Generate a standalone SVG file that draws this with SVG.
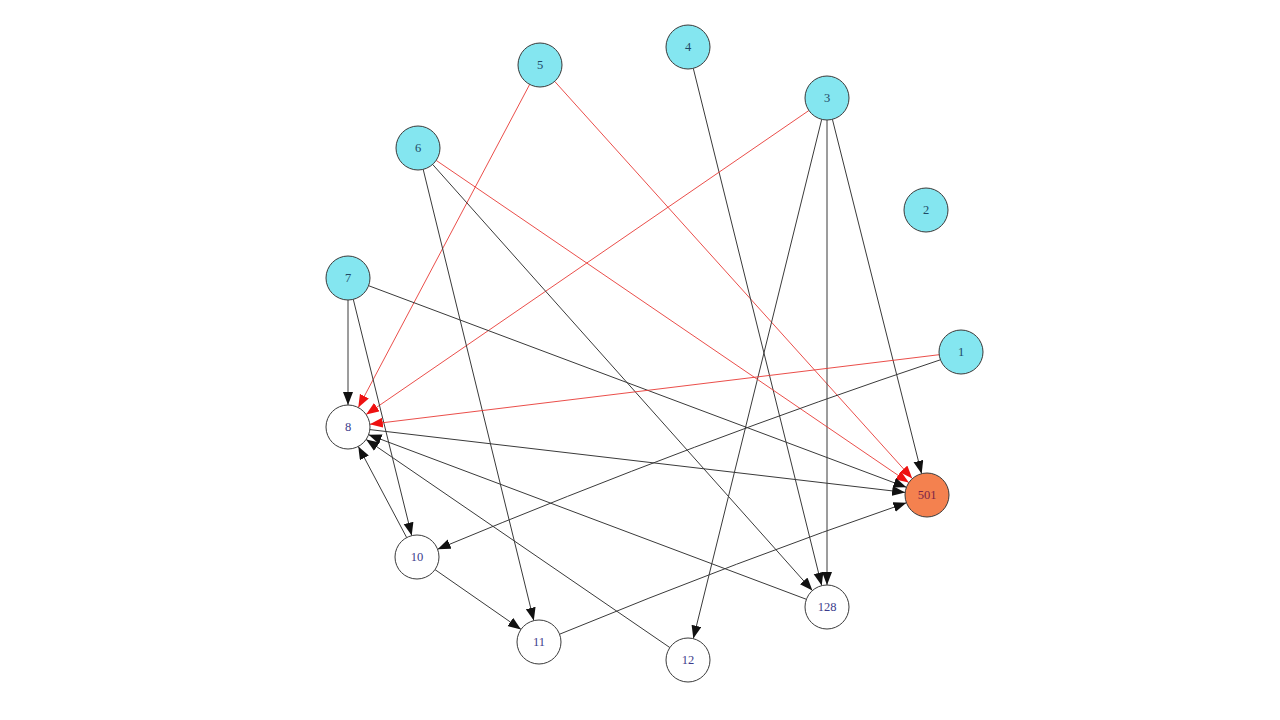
<svg xmlns="http://www.w3.org/2000/svg" width="1280" height="720" viewBox="0 0 1280 720">
<style>
.e{stroke:#3a3a3a;stroke-width:1;fill:none;marker-end:url(#ab)}
.r{stroke:#e83a36;stroke-width:0.9;fill:none;marker-end:url(#ar)}
.n circle{stroke:#3a3a3a;stroke-width:1}
.c circle{fill:#84e6f0}
.w circle{fill:#ffffff}
.o circle{fill:#f4814f}
text{font-family:"Liberation Serif",serif;font-size:12.5px;text-anchor:middle;dominant-baseline:central}
.c text{fill:#1f4a66}
.w text{fill:#3c3c8c}
.o text{fill:#7a2448}
</style>
<defs>
<marker id="ab" markerUnits="userSpaceOnUse" markerWidth="14" markerHeight="11" refX="13" refY="5" orient="auto"><path d="M0,0 L13,5 L0,10 z" fill="#111"/></marker>
<marker id="ar" markerUnits="userSpaceOnUse" markerWidth="14" markerHeight="11" refX="13" refY="5" orient="auto"><path d="M0,0 L13,5 L0,10 z" fill="#ee1111"/></marker>
</defs>
<rect width="1280" height="720" fill="#ffffff"/>
<g id="edges">
<path class="r" d="M529.7,84.4 L358.3,407.6"/>
<path class="r" d="M554.7,81.4 L912.3,478.6"/>
<path class="e" d="M693.3,68.4 L821.7,585.6"/>
<path class="r" d="M808.9,110.5 L366.1,414.5"/>
<path class="e" d="M821.7,119.4 L693.3,638.6"/>
<path class="e" d="M827,120 L827,585"/>
<path class="e" d="M832.4,119.3 L921.6,473.7"/>
<path class="r" d="M436.2,160.4 L908.8,482.6"/>
<path class="e" d="M423.2,169.4 L533.8,620.6"/>
<path class="e" d="M432.6,164.4 L812.4,590.6"/>
<path class="e" d="M348,300 L348,405"/>
<path class="e" d="M353.3,299.4 L411.7,535.6"/>
<path class="e" d="M368.6,285.7 L906.4,487.3"/>
<path class="r" d="M939.2,354.7 L369.8,424.3"/>
<path class="e" d="M940.4,359.8 Q700,440 437.6,549.2"/>
<path class="e" d="M369.9,429.6 L905.1,492.4"/>
<path class="e" d="M406.7,537.6 L358.3,446.4"/>
<path class="e" d="M435,569.6 L521,629.4"/>
<path class="e" d="M559.6,634.2 Q740,560 906.4,502.8"/>
<path class="e" d="M669.9,647.6 L366.1,439.4"/>
<path class="e" d="M806.4,599.3 L368.6,434.7"/>
</g>
<g id="n1" class="n c"><circle cx="961" cy="352" r="22"/><text x="961" y="352">1</text></g>
<g id="n2" class="n c"><circle cx="926" cy="210" r="22"/><text x="926" y="210">2</text></g>
<g id="n3" class="n c"><circle cx="827" cy="98" r="22"/><text x="827" y="98">3</text></g>
<g id="n4" class="n c"><circle cx="688" cy="47" r="22"/><text x="688" y="47">4</text></g>
<g id="n5" class="n c"><circle cx="540" cy="65" r="22"/><text x="540" y="65">5</text></g>
<g id="n6" class="n c"><circle cx="418" cy="148" r="22"/><text x="418" y="148">6</text></g>
<g id="n7" class="n c"><circle cx="348" cy="278" r="22"/><text x="348" y="278">7</text></g>
<g id="n8" class="n w"><circle cx="348" cy="427" r="22"/><text x="348" y="427">8</text></g>
<g id="n501" class="n o"><circle cx="927" cy="495" r="22"/><text x="927" y="495">501</text></g>
<g id="n10" class="n w"><circle cx="417" cy="557" r="22"/><text x="417" y="557">10</text></g>
<g id="n11" class="n w"><circle cx="539" cy="642" r="22"/><text x="539" y="642">11</text></g>
<g id="n12" class="n w"><circle cx="688" cy="660" r="22"/><text x="688" y="660">12</text></g>
<g id="n128" class="n w"><circle cx="827" cy="607" r="22"/><text x="827" y="607">128</text></g>
</svg>
